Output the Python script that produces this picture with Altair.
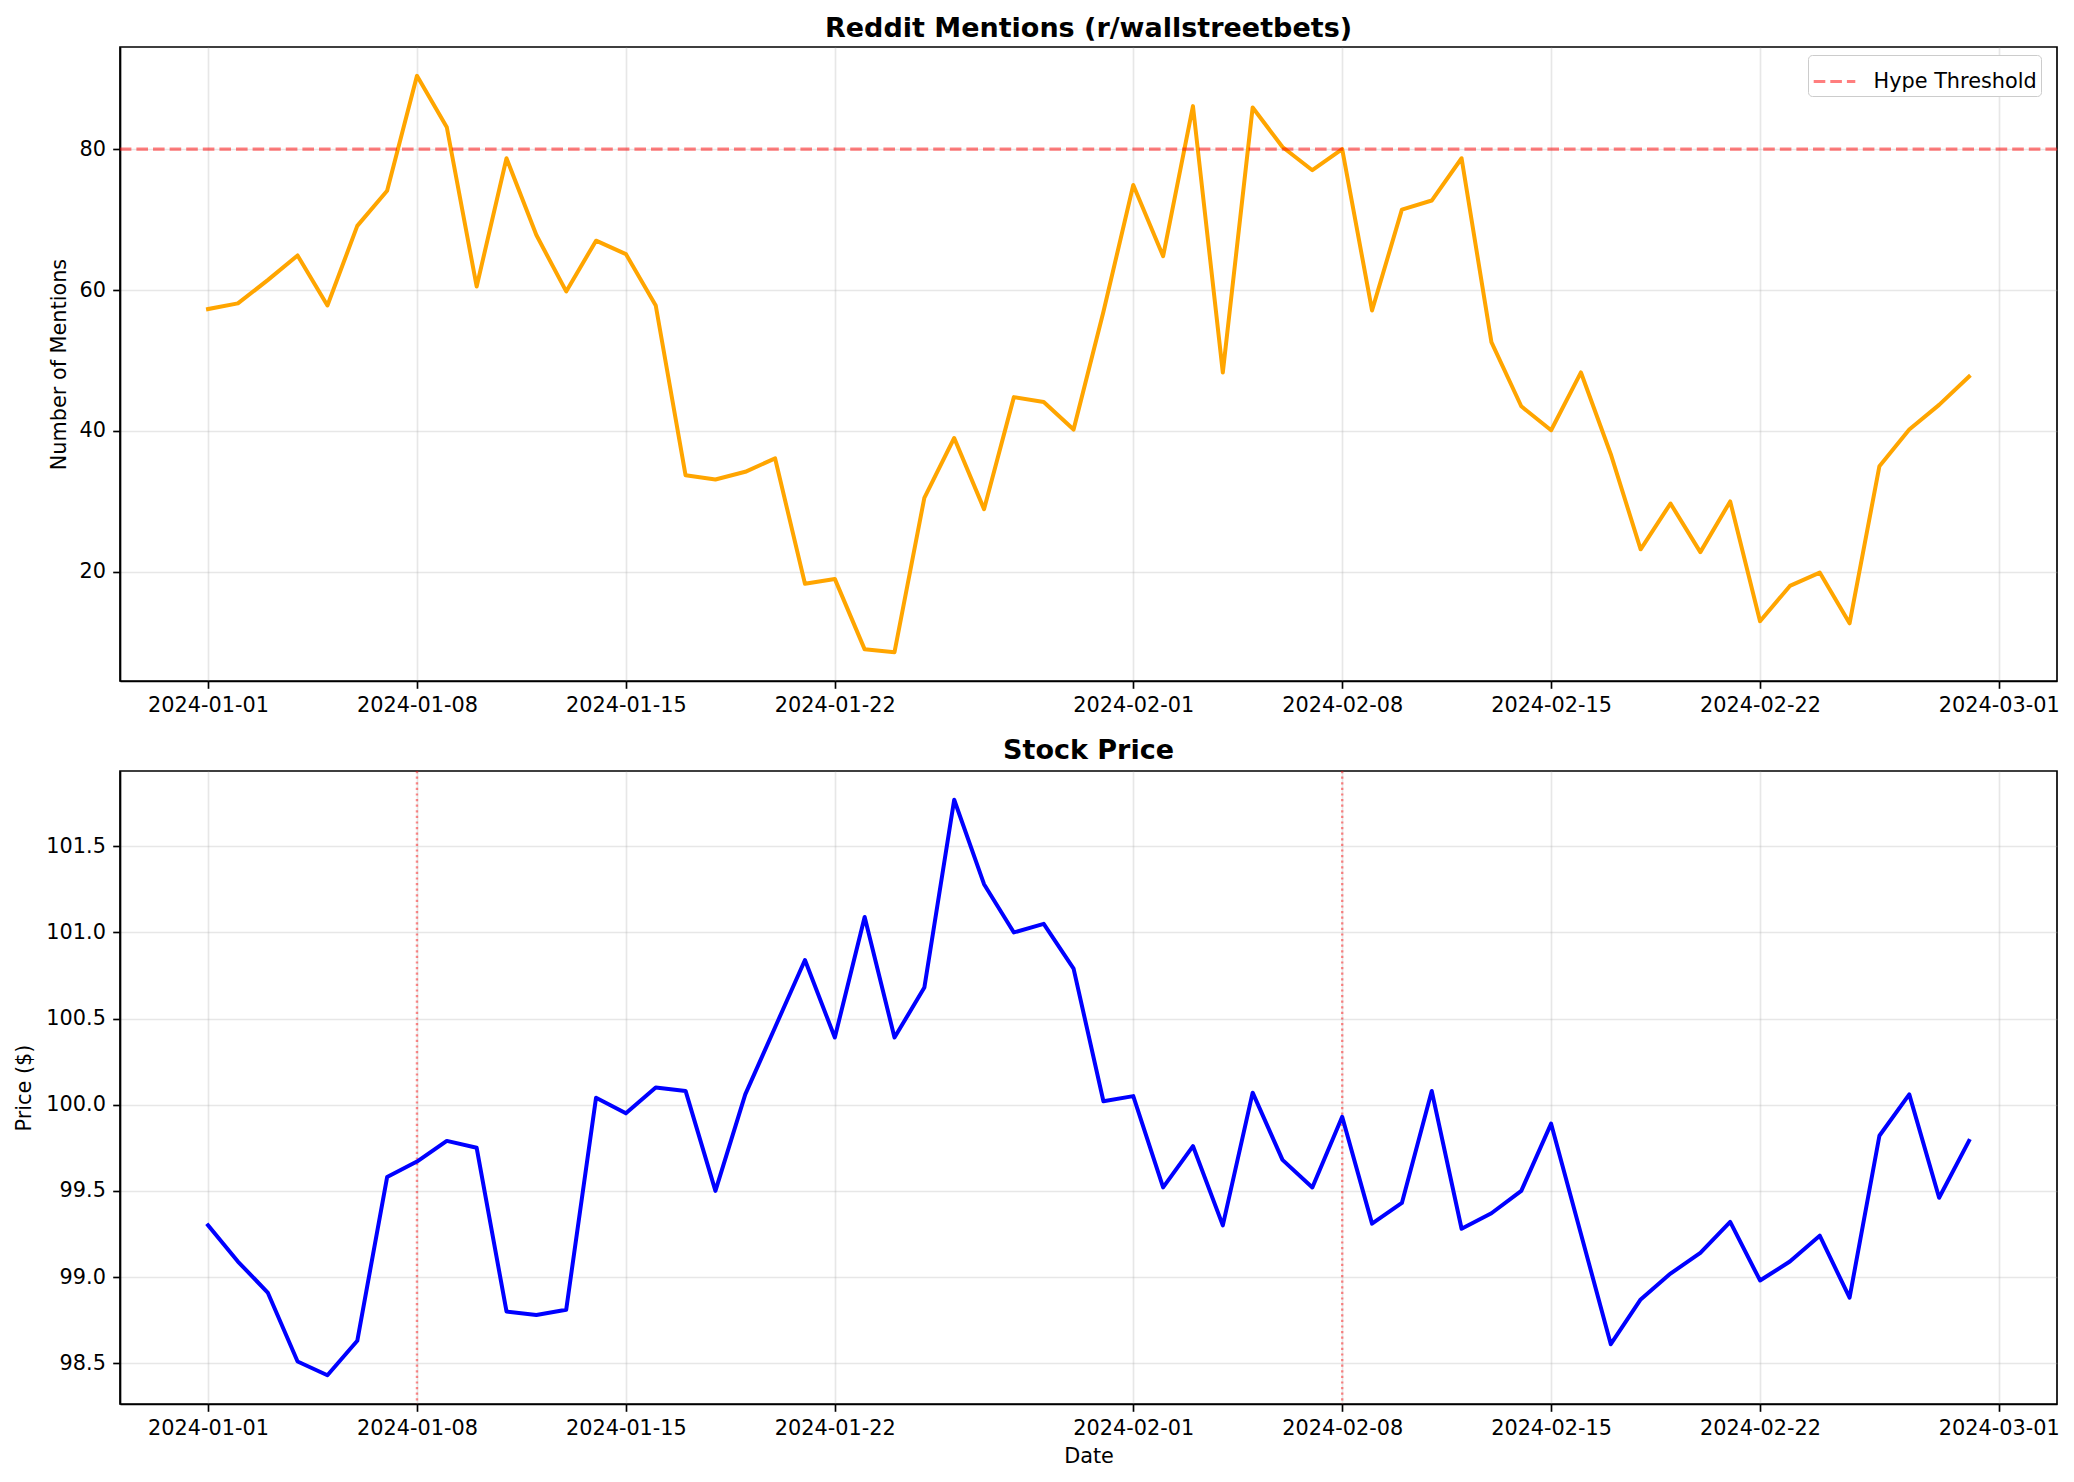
import altair as alt
import pandas as pd

# Daily observations, 2024-01-01 .. 2024-02-29
dates = pd.date_range("2024-01-01", "2024-02-29", freq="D").strftime("%Y-%m-%d").tolist()

mentions = [57.3, 58.1, 61.4, 64.9, 57.8, 69.1, 74.1, 90.4, 83.1, 60.5,
            78.7, 67.8, 59.8, 67.0, 65.1, 57.8, 33.7, 33.1, 34.2, 36.1,
            18.3, 19.0, 9.0, 8.6, 30.5, 39.0, 28.9, 44.8, 44.1, 40.2,
            56.9, 74.9, 64.8, 86.1, 48.3, 85.9, 80.3, 77.0, 80.0, 57.1,
            71.4, 72.7, 78.7, 52.6, 43.5, 40.1, 48.3, 36.7, 23.2, 29.7,
            22.8, 30.0, 13.0, 18.0, 19.9, 12.7, 35.0, 40.2, 43.7, 47.7]

prices = [99.30, 99.09, 98.91, 98.51, 98.43, 98.63, 99.58, 99.67, 99.79, 99.75,
          98.80, 98.78, 98.81, 100.04, 99.95, 100.10, 100.08, 99.50, 100.06, 100.45,
          100.84, 100.39, 101.09, 100.39, 100.68, 101.77, 101.28, 101.00, 101.05, 100.79,
          100.02, 100.05, 99.52, 99.76, 99.30, 100.07, 99.68, 99.52, 99.93, 99.31,
          99.43, 100.08, 99.28, 99.37, 99.50, 99.89, 99.25, 98.61, 98.87, 99.02,
          99.14, 99.32, 98.98, 99.09, 99.24, 98.88, 99.82, 100.06, 99.46, 99.79]

hype_threshold = 80
event_dates = ["2024-01-08", "2024-02-08"]

tick_dates = ["2024-01-01", "2024-01-08", "2024-01-15", "2024-01-22", "2024-02-01",
              "2024-02-08", "2024-02-15", "2024-02-22", "2024-03-01"]
mention_ticks = [20, 40, 60, 80]
price_ticks = [98.5, 99.0, 99.5, 100.0, 100.5, 101.0, 101.5]

FONT = "DejaVu Sans"
PLOT_W = 1937
PLOT_H = 634


def ms(ts):
    return int(ts.value // 10**6)


def padded(lo, hi, frac=0.05):
    span = hi - lo
    return [lo - span * frac, hi + span * frac]


t0 = pd.Timestamp(dates[0], tz="UTC")
t1 = pd.Timestamp(dates[-1], tz="UTC")
x_domain = [ms(t0 - (t1 - t0) * 0.05), ms(t1 + (t1 - t0) * 0.05)]
x_ticks = [ms(pd.Timestamp(d, tz="UTC")) for d in tick_dates]

df = pd.DataFrame({"date": dates, "mentions": mentions, "price": prices})
thr_df = pd.DataFrame({"mentions": [hype_threshold], "label": ["Hype Threshold"]})
ev_df = pd.DataFrame({"date": event_dates})


def x_enc(title=None):
    return alt.X(
        "date:T",
        scale=alt.Scale(type="utc", domain=x_domain, nice=False),
        axis=alt.Axis(values=x_ticks, labelExpr="utcFormat(datum.value, '%Y-%m-%d')",
                      title=title, labelAngle=0, titlePadding=8,
                      labelOverlap=False),
    )


def panel_title(text):
    return alt.Title(text, font=FONT, fontSize=27, fontWeight="bold", color="black",
                     anchor="middle", offset=-22.5, baseline="bottom")


# ---- Reddit mentions panel ----
m_scale = alt.Scale(domain=padded(min(mentions), max(mentions)), nice=False, zero=False)
m_axis = alt.Axis(values=mention_ticks, format="d", title="Number of Mentions",
                  titleX=-61, titleBaseline="middle")

mention_line = alt.Chart(df).mark_line(
    color="orange", strokeWidth=4, strokeJoin="round", strokeCap="square"
).encode(x=x_enc(), y=alt.Y("mentions:Q", scale=m_scale, axis=m_axis))

threshold = alt.Chart(thr_df).mark_rule(
    strokeWidth=3.1, strokeDash=[11.6, 5], opacity=0.5
).encode(
    y=alt.Y("mentions:Q", scale=m_scale, axis=m_axis),
    color=alt.Color(
        "label:N",
        scale=alt.Scale(domain=["Hype Threshold"], range=["#ff0000"]),
        legend=alt.Legend(
            title=None, orient="none", legendX=1688, legendY=8,
            symbolType="stroke", symbolSize=1730, symbolStrokeWidth=3.1,
            symbolDash=[11.6, 5], symbolOpacity=0.5,
            labelFont=FONT, labelFontSize=20.8, labelColor="black", labelLimit=400,
            labelOffset=16.6, padding=4, fillColor="white",
            strokeColor="#cccccc", cornerRadius=4,
        ),
    ),
)

top = alt.layer(mention_line, threshold).properties(
    width=PLOT_W, height=PLOT_H,
    title=panel_title("Reddit Mentions (r/wallstreetbets)"),
)

# ---- Stock price panel ----
p_scale = alt.Scale(domain=padded(min(prices), max(prices)), nice=False, zero=False)
p_axis = alt.Axis(values=price_ticks, format=".1f", title="Price ($)",
                  titleX=-96, titleBaseline="middle")

events = alt.Chart(ev_df).mark_rule(
    color="#ff0000", opacity=0.45, strokeWidth=2.4, strokeDash=[2.2, 3.4]
).encode(x=x_enc("Date"))

price_line = alt.Chart(df).mark_line(
    color="blue", strokeWidth=4, strokeJoin="round", strokeCap="square"
).encode(x=x_enc("Date"), y=alt.Y("price:Q", scale=p_scale, axis=p_axis))

bottom = alt.layer(events, price_line).properties(
    width=PLOT_W, height=PLOT_H - 1,
    title=panel_title("Stock Price"),
)

chart = alt.vconcat(top, bottom, spacing=19).properties(
    padding={"left": 12, "top": 13, "right": 5, "bottom": 5},
    background="white",
).configure_view(
    stroke="black", strokeWidth=1.67
).configure_axis(
    labelFont=FONT, labelFontSize=20.8, labelColor="black", labelPadding=7.3,
    tickColor="black", tickSize=7.3, tickWidth=1.67,
    domainColor="black", domainWidth=1.67,
    grid=True, gridColor="#b0b0b0", gridOpacity=0.3, gridWidth=1.67,
    titleFont=FONT, titleFontSize=20.8, titleFontWeight="normal", titleColor="black",
)

chart.save("out.html", embed_options={"renderer": "svg", "actions": False})
